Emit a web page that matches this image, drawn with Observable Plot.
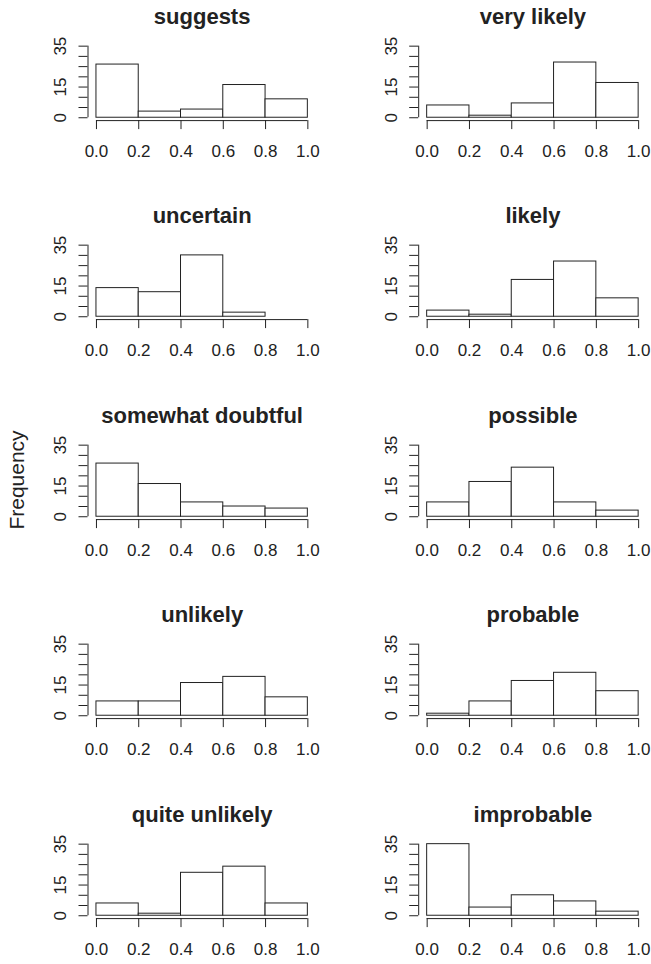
<!DOCTYPE html>
<html>
<head>
<meta charset="utf-8">
<script src="https://cdn.jsdelivr.net/npm/d3@7"></script>
<script src="https://cdn.jsdelivr.net/npm/@observablehq/plot@0.6"></script>
<style>
  html, body { margin: 0; padding: 0; background: #fff; overflow: hidden; }
  #wrap { position: relative; width: 651px; height: 964px; font-family: "Liberation Sans", Arial, sans-serif; color: #222; }
  .panel { position: absolute; }
  #ylab { position: absolute; left: 16.5px; top: 480px; transform: translate(-50%, -50%) rotate(-90deg); font-size: 21px; white-space: nowrap; color: #222; }
</style>
</head>
<body>
<div id="wrap"><div id="ylab">Frequency</div></div>
<script>
// ---- data ----
const binEdges = [0, 0.2, 0.4, 0.6, 0.8, 1.0];
const xTickLabels = [0, 0.2, 0.4, 0.6, 0.8, 1.0];
const yTicks = [0, 5, 10, 15, 20, 25, 30, 35];
const yTickLabels = [0, 15, 35];
const titles = ["suggests", "very likely", "uncertain", "likely", "somewhat doubtful",
                "possible", "unlikely", "probable", "quite unlikely", "improbable"];
const suggests         = [26, 3, 4, 16, 9];
const veryLikely       = [6, 1, 7, 27, 17];
const uncertain        = [14, 12, 30, 2, 0];
const likely           = [3, 1, 18, 27, 9];
const somewhatDoubtful = [26, 16, 7, 5, 4];
const possible         = [7, 17, 24, 7, 3];
const unlikely         = [7, 7, 16, 19, 9];
const probable         = [1, 7, 17, 21, 12];
const quiteUnlikely    = [6, 1, 21, 24, 6];
const improbable       = [35, 4, 10, 7, 2];
const allCounts = [suggests, veryLikely, uncertain, likely, somewhatDoubtful,
                   possible, unlikely, probable, quiteUnlikely, improbable];

const wrap = document.getElementById("wrap");
const H = 166;
const fmt = d3.format(".1f");
allCounts.forEach((counts, k) => {
  const col = k % 2, row = Math.floor(k / 2);
  const bars = counts.map((c, i) => ({x1: binEdges[i], x2: binEdges[i + 1], count: c}));
  const W = col === 0 ? 325 : 326;
  const mL = col === 0 ? 87.5 : 93.2;
  const mR = col === 0 ? 9.2 : 4.4;
  const mT = 42.8, mB = H - 120.1;
  const chart = Plot.plot({
    width: W, height: H,
    marginLeft: mL, marginRight: mR, marginTop: mT, marginBottom: mB,
    style: {fontFamily: "Liberation Sans, Arial, sans-serif", fontSize: "15px", color: "#222", background: "transparent", overflow: "visible"},
    x: {domain: [-0.04, 1.04], ticks: xTickLabels, tickSize: 9, tickFormat: () => "", label: null},
    y: {domain: [-1.4, 36.4], ticks: yTicks, tickSize: 9, tickFormat: () => "", label: null},
    marks: [
      Plot.rect(bars, {x1: "x1", x2: "x2", y1: 0, y2: "count", fill: "white", stroke: "#222", strokeWidth: 1}),
      Plot.ruleY([-1.4], {x1: 0, x2: 1, stroke: "#222"}),
      Plot.ruleX([-0.04], {y1: 0, y2: 35, stroke: "#222"}),
      Plot.text(xTickLabels, {x: d => d, y: -1.4, dy: 31, text: d => fmt(d), textAnchor: "middle", lineAnchor: "middle", fontSize: 17, fill: "#222"}),
      Plot.text(yTickLabels, {x: -0.04, y: d => d, dx: -27, rotate: -90, textAnchor: "middle", lineAnchor: "middle", fontSize: 17, fill: "#222"}),
      Plot.text([titles[k]], {x: 0.5, frameAnchor: "top", dy: 16 - mT, lineAnchor: "middle", textAnchor: "middle", fontSize: 22, fontWeight: "bold", fill: "#222"})
    ]
  });
  const div = document.createElement("div");
  div.className = "panel";
  div.style.left = (col === 0 ? 0 : 325) + "px";
  div.style.top = (199.4 * row) + "px";
  div.appendChild(chart);
  wrap.appendChild(div);
});
</script>
</body>
</html>
